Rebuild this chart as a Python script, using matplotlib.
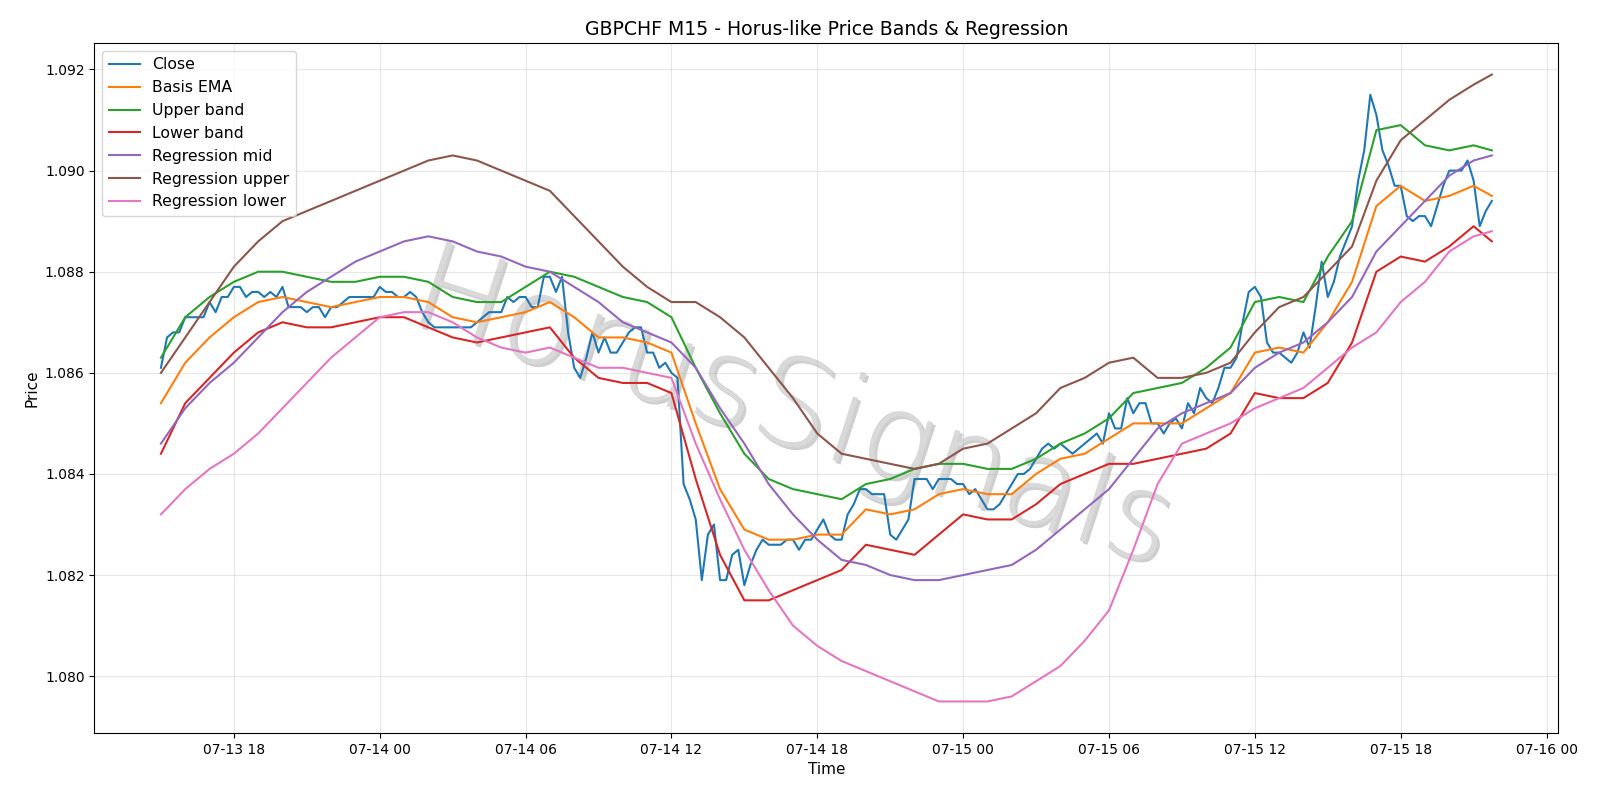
import numpy as np
import pandas as pd
import matplotlib
matplotlib.use("Agg")
import matplotlib.pyplot as plt
import matplotlib.dates as mdates
import matplotlib.patheffects as pe
from matplotlib import font_manager

SYMBOL = "GBPCHF"
TIMEFRAME = "M15"

# 15-minute closes, one row per hour (07-13 15:00 .. 07-15 21:45)
close = [
    1.0861, 1.0867, 1.0868, 1.0868,
    1.0871, 1.0871, 1.0871, 1.0871,
    1.0874, 1.0872, 1.0875, 1.0875,
    1.0877, 1.0877, 1.0875, 1.0876,
    1.0876, 1.0875, 1.0876, 1.0875,
    1.0877, 1.0873, 1.0873, 1.0873,
    1.0872, 1.0873, 1.0873, 1.0871,
    1.0873, 1.0873, 1.0874, 1.0875,
    1.0875, 1.0875, 1.0875, 1.0875,
    1.0877, 1.0876, 1.0876, 1.0875,
    1.0875, 1.0876, 1.0875, 1.0872,
    1.0870, 1.0869, 1.0869, 1.0869,
    1.0869, 1.0869, 1.0869, 1.0869,
    1.0870, 1.0871, 1.0872, 1.0872,
    1.0872, 1.0875, 1.0874, 1.0875,
    1.0875, 1.0873, 1.0873, 1.0879,
    1.0879, 1.0876, 1.0879, 1.0868,
    1.0861, 1.0859, 1.0863, 1.0868,
    1.0864, 1.0867, 1.0864, 1.0864,
    1.0866, 1.0868, 1.0869, 1.0869,
    1.0864, 1.0864, 1.0861, 1.0862,
    1.0860, 1.0859, 1.0838, 1.0835,
    1.0831, 1.0819, 1.0828, 1.0830,
    1.0819, 1.0819, 1.0824, 1.0825,
    1.0818, 1.0822, 1.0825, 1.0827,
    1.0826, 1.0826, 1.0826, 1.0827,
    1.0827, 1.0825, 1.0827, 1.0827,
    1.0829, 1.0831, 1.0828, 1.0827,
    1.0827, 1.0832, 1.0834, 1.0837,
    1.0837, 1.0836, 1.0836, 1.0836,
    1.0828, 1.0827, 1.0829, 1.0831,
    1.0839, 1.0839, 1.0839, 1.0837,
    1.0839, 1.0839, 1.0839, 1.0838,
    1.0838, 1.0836, 1.0837, 1.0835,
    1.0833, 1.0833, 1.0834, 1.0836,
    1.0838, 1.0840, 1.0840, 1.0841,
    1.0843, 1.0845, 1.0846, 1.0845,
    1.0846, 1.0845, 1.0844, 1.0845,
    1.0846, 1.0847, 1.0848, 1.0846,
    1.0852, 1.0849, 1.0849, 1.0855,
    1.0852, 1.0854, 1.0854, 1.0850,
    1.0850, 1.0848, 1.0850, 1.0851,
    1.0849, 1.0854, 1.0852, 1.0857,
    1.0855, 1.0854, 1.0857, 1.0861,
    1.0861, 1.0863, 1.0870, 1.0876,
    1.0877, 1.0875, 1.0866, 1.0864,
    1.0864, 1.0863, 1.0862, 1.0864,
    1.0868, 1.0865, 1.0873, 1.0882,
    1.0875, 1.0878, 1.0883, 1.0886,
    1.0889, 1.0898, 1.0904, 1.0915,
    1.0911, 1.0904, 1.0901, 1.0897,
    1.0897, 1.0891, 1.0890, 1.0891,
    1.0891, 1.0889, 1.0893, 1.0897,
    1.0900, 1.0900, 1.0900, 1.0902,
    1.0898, 1.0889, 1.0892, 1.0894,
]

# band / regression lines read hourly (15:00 .. 21:00 on 07-15) plus the last bar at 21:45
basis_ema = [
    1.0854, 1.0862, 1.0867, 1.0871, 1.0874, 1.0875, 1.0874, 1.0873, 1.0874, 1.0875,
    1.0875, 1.0874, 1.0871, 1.0870, 1.0871, 1.0872, 1.0874, 1.0871, 1.0867, 1.0867,
    1.0866, 1.0864, 1.0850, 1.0837, 1.0829, 1.0827, 1.0827, 1.0828, 1.0828, 1.0833,
    1.0832, 1.0833, 1.0836, 1.0837, 1.0836, 1.0836, 1.0840, 1.0843, 1.0844, 1.0847,
    1.0850, 1.0850, 1.0850, 1.0853, 1.0856, 1.0864, 1.0865, 1.0864, 1.0870, 1.0878,
    1.0893, 1.0897, 1.0894, 1.0895, 1.0897, 1.0895,
]
upper_band = [
    1.0863, 1.0871, 1.0875, 1.0878, 1.0880, 1.0880, 1.0879, 1.0878, 1.0878, 1.0879,
    1.0879, 1.0878, 1.0875, 1.0874, 1.0874, 1.0877, 1.0880, 1.0879, 1.0877, 1.0875,
    1.0874, 1.0871, 1.0861, 1.0852, 1.0844, 1.0839, 1.0837, 1.0836, 1.0835, 1.0838,
    1.0839, 1.0841, 1.0842, 1.0842, 1.0841, 1.0841, 1.0843, 1.0846, 1.0848, 1.0851,
    1.0856, 1.0857, 1.0858, 1.0861, 1.0865, 1.0874, 1.0875, 1.0874, 1.0883, 1.0890,
    1.0908, 1.0909, 1.0905, 1.0904, 1.0905, 1.0904,
]
lower_band = [
    1.0844, 1.0854, 1.0859, 1.0864, 1.0868, 1.0870, 1.0869, 1.0869, 1.0870, 1.0871,
    1.0871, 1.0869, 1.0867, 1.0866, 1.0867, 1.0868, 1.0869, 1.0863, 1.0859, 1.0858,
    1.0858, 1.0856, 1.0839, 1.0824, 1.0815, 1.0815, 1.0817, 1.0819, 1.0821, 1.0826,
    1.0825, 1.0824, 1.0828, 1.0832, 1.0831, 1.0831, 1.0834, 1.0838, 1.0840, 1.0842,
    1.0842, 1.0843, 1.0844, 1.0845, 1.0848, 1.0856, 1.0855, 1.0855, 1.0858, 1.0866,
    1.0880, 1.0883, 1.0882, 1.0885, 1.0889, 1.0886,
]
reg_mid = [
    1.0846, 1.0853, 1.0858, 1.0862, 1.0867, 1.0872, 1.0876, 1.0879, 1.0882, 1.0884,
    1.0886, 1.0887, 1.0886, 1.0884, 1.0883, 1.0881, 1.0880, 1.0877, 1.0874, 1.0870,
    1.0868, 1.0866, 1.0861, 1.0853, 1.0846, 1.0838, 1.0832, 1.0827, 1.0823, 1.0822,
    1.0820, 1.0819, 1.0819, 1.0820, 1.0821, 1.0822, 1.0825, 1.0829, 1.0833, 1.0837,
    1.0843, 1.0849, 1.0852, 1.0854, 1.0856, 1.0861, 1.0864, 1.0866, 1.0870, 1.0875,
    1.0884, 1.0889, 1.0894, 1.0899, 1.0902, 1.0903,
]
reg_upper = [
    1.0860, 1.0867, 1.0874, 1.0881, 1.0886, 1.0890, 1.0892, 1.0894, 1.0896, 1.0898,
    1.0900, 1.0902, 1.0903, 1.0902, 1.0900, 1.0898, 1.0896, 1.0891, 1.0886, 1.0881,
    1.0877, 1.0874, 1.0874, 1.0871, 1.0867, 1.0861, 1.0855, 1.0848, 1.0844, 1.0843,
    1.0842, 1.0841, 1.0842, 1.0845, 1.0846, 1.0849, 1.0852, 1.0857, 1.0859, 1.0862,
    1.0863, 1.0859, 1.0859, 1.0860, 1.0862, 1.0868, 1.0873, 1.0875, 1.0880, 1.0885,
    1.0898, 1.0906, 1.0910, 1.0914, 1.0917, 1.0919,
]
reg_lower = [
    1.0832, 1.0837, 1.0841, 1.0844, 1.0848, 1.0853, 1.0858, 1.0863, 1.0867, 1.0871,
    1.0872, 1.0872, 1.0870, 1.0867, 1.0865, 1.0864, 1.0865, 1.0863, 1.0861, 1.0861,
    1.0860, 1.0859, 1.0846, 1.0835, 1.0825, 1.0817, 1.0810, 1.0806, 1.0803, 1.0801,
    1.0799, 1.0797, 1.0795, 1.0795, 1.0795, 1.0796, 1.0799, 1.0802, 1.0807, 1.0813,
    1.0825, 1.0838, 1.0846, 1.0848, 1.0850, 1.0853, 1.0855, 1.0857, 1.0861, 1.0865,
    1.0868, 1.0874, 1.0878, 1.0884, 1.0887, 1.0888,
]

bar_times = pd.date_range("2025-07-13 15:00", periods=len(close), freq="15min")
line_times = pd.DatetimeIndex(
    list(pd.date_range("2025-07-13 15:00", "2025-07-15 21:00", freq="h")) + [bar_times[-1]]
)

fig, ax = plt.subplots(figsize=(16, 8), dpi=100)
fig.subplots_adjust(left=0.059, right=0.974, top=0.946, bottom=0.084)

ax.plot(bar_times, close, label="Close")
ax.plot(line_times, basis_ema, label="Basis EMA")
ax.plot(line_times, upper_band, label="Upper band")
ax.plot(line_times, lower_band, label="Lower band")
ax.plot(line_times, reg_mid, label="Regression mid")
ax.plot(line_times, reg_upper, label="Regression upper")
ax.plot(line_times, reg_lower, label="Regression lower")

# watermark, thin face if one is installed
wm_font = font_manager.FontProperties(family="DejaVu Sans", weight="ultralight", size=88)
ax.text(0.477, 0.465, "HorusSignals", transform=ax.transAxes, fontproperties=wm_font,
        color="#d9d9d9", rotation=-18, ha="center", va="center", zorder=1,
        path_effects=[pe.withSimplePatchShadow(offset=(2, -2), shadow_rgbFace="#a0a0a0", alpha=0.5)])

ax.set_title(f"{SYMBOL} {TIMEFRAME} - Horus-like Price Bands & Regression", fontsize=13.6)
ax.set_xlabel("Time", fontsize=11)
ax.set_ylabel("Price", fontsize=11)
ax.grid(True, alpha=0.3)
ax.legend(loc="upper left", fontsize=11.3)
ax.xaxis.set_major_locator(mdates.HourLocator(byhour=[0, 6, 12, 18]))
ax.xaxis.set_major_formatter(mdates.DateFormatter("%m-%d %H"))

fig.savefig("out.png")
